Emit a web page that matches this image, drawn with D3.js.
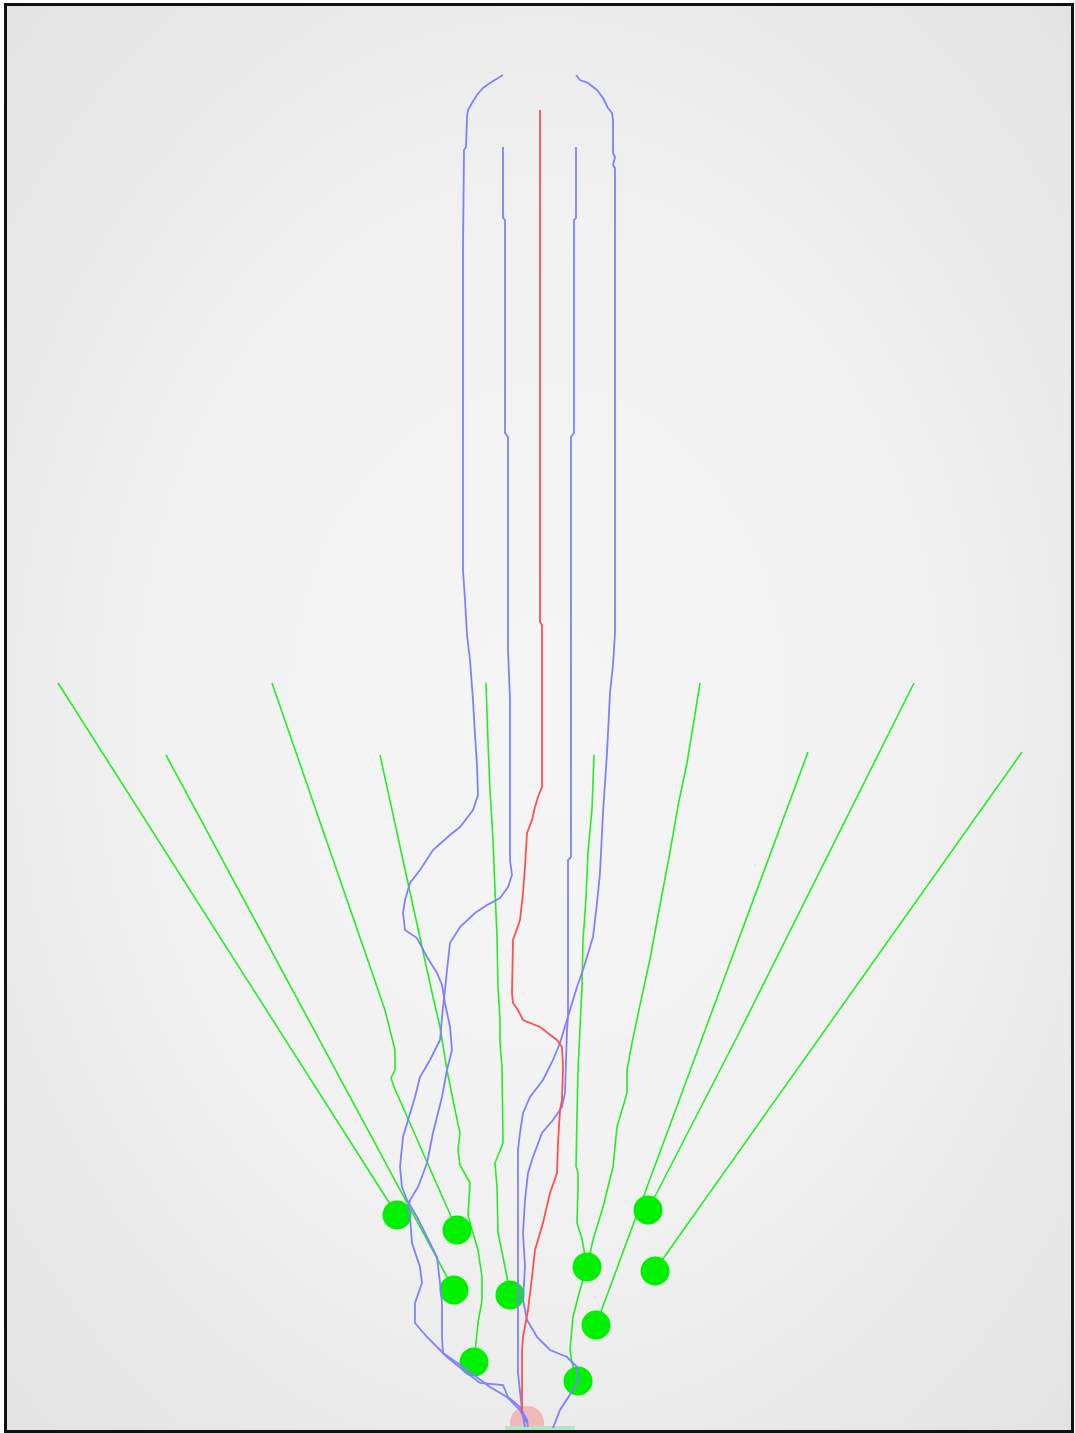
<!DOCTYPE html>
<html>
<head>
<meta charset="utf-8">
<script src="https://cdn.jsdelivr.net/npm/d3@7"></script>
<style>
  body { margin: 0; background: #fff; }
</style>
</head>
<body>
<svg id="field" width="1075" height="1433"></svg>
<script>
// field units: x from base centre, y up from the base line
const blueOuterLeft = [[-22,1355],[-27,1352],[-35,1347],[-42,1342],[-48,1335],[-53,1327],[-57,1320],[-58,1313],[-59,1283],[-61,1280],[-62,1180],[-62,860],[-60,830],[-58,795],[-55,770],[-52,730],[-50,695],[-48,665],[-47,635],[-52,620],[-65,603],[-75,595],[-92,580],[-105,560],[-115,547],[-120,530],[-122,517],[-120,500],[-108,492],[-98,473],[-88,457],[-83,445],[-80,427],[-75,403],[-73,380],[-78,360],[-83,333],[-87,317],[-92,297],[-98,267],[-107,243],[-115,230],[-117,223],[-115,213],[-113,187],[-105,163],[-103,147],[-110,127],[-110,107],[-98,93],[-78,73],[-62,60],[-45,47],[-22,45],[-17,33],[-5,23],[2,10],[3,3]];
const blueInnerLeft = [[-22,1283],[-22,1212],[-20,1210],[-20,997],[-17,993],[-17,780],[-15,730],[-15,570],[-13,555],[-17,543],[-25,532],[-38,525],[-50,517],[-65,503],[-75,487],[-78,460],[-80,440],[-82,423],[-85,390],[-95,370],[-105,353],[-110,333],[-122,293],[-125,263],[-123,243],[-118,230],[-108,213],[-95,187],[-88,173],[-85,147],[-83,127],[-83,93],[-82,77],[-62,63],[-35,43],[-18,33],[-5,20],[2,7]];
const blueInnerRight = [[51,1283],[51,1212],[49,1210],[49,997],[46,993],[46,573],[43,570],[43,413],[42,400],[40,337],[37,323],[28,310],[17,297],[8,273],[3,257],[0,230],[-2,197],[0,163],[-2,130],[2,110],[12,93],[25,80],[42,73],[52,63],[53,50],[48,40],[35,20],[28,2]];
const blueOuterRight = [[51,1355],[55,1350],[63,1347],[72,1340],[78,1332],[83,1322],[87,1317],[88,1310],[88,1277],[90,1273],[88,1265],[90,1262],[90,797],[88,765],[85,737],[82,677],[78,617],[75,557],[72,527],[68,493],[58,460],[52,443],[45,420],[35,387],[28,370],[18,350],[5,333],[-2,317],[-5,297],[-7,280],[-7,57],[-3,20],[0,3]];
const redTrack = [[15,1320],[15,808],[17,805],[17,643],[13,633],[10,623],[7,610],[2,597],[0,563],[-2,537],[-5,510],[-12,490],[-13,437],[-12,427],[-7,420],[-2,410],[15,403],[32,390],[37,383],[38,363],[37,330],[35,320],[33,287],[32,257],[25,237],[18,207],[10,180],[7,153],[3,120],[-2,93],[-3,80],[-3,17]];

const greenTracks = [
  [[-467,747],[-128,215]],
  [[-359,675],[-71,140]],
  [[-253,747],[-140,420],[-130,380],[-130,360],[-134,352],[-131,343],[-68,200]],
  [[-145,675],[-117,547],[-103,483],[-92,433],[-85,403],[-78,360],[-70,320],[-65,297],[-67,280],[-65,265],[-55,247],[-57,215],[-53,200],[-47,180],[-43,153],[-43,130],[-47,107],[-51,68]],
  [[-39,747],[-37,687],[-35,640],[-32,590],[-30,540],[-28,493],[-27,443],[-25,410],[-25,387],[-23,363],[-22,287],[-30,267],[-28,243],[-27,197],[-22,173],[-18,153],[-15,135]],
  [[69,675],[67,621],[63,578],[61,532],[58,490],[57,444],[55,402],[53,360],[52,314],[51,264],[53,257],[53,241],[52,207],[57,191],[62,163],[55,140],[48,113],[45,80],[47,67],[53,49]],
  [[175,747],[170,716],[162,667],[153,624],[145,578],[135,525],[125,471],[115,425],[107,387],[102,360],[102,337],[92,303],[88,263],[78,223],[68,190],[62,163]],
  [[283,678],[71,105]],
  [[389,747],[213,395],[123,220]],
  [[497,678],[130,160]]
];
const dotPoints = [[-128,215],[-68,200],[-71,140],[-15,135],[-51,68],[53,49],[62,163],[71,105],[123,220],[130,159]];
const baseCircle = [2, 7];
const baseRect = [[-20, 4], [50, -10]];

const svg = d3.select("#field");
const x = d3.scaleLinear().domain([-521, 549]).range([4, 1074]);
const y = d3.scaleLinear().domain([0, 1427]).range([1430, 3]);
const line = d3.line().x(d => x(d[0])).y(d => y(d[1]));

const defs = svg.append("defs");
const grad = defs.append("radialGradient").attr("id", "bg")
    .attr("cx", "50%").attr("cy", "50%").attr("r", "72%");
grad.append("stop").attr("offset", "0%").attr("stop-color", "#f5f5f5");
grad.append("stop").attr("offset", "45%").attr("stop-color", "#f2f2f2");
grad.append("stop").attr("offset", "100%").attr("stop-color", "#e2e2e2");
defs.append("clipPath").attr("id", "clip").append("rect")
    .attr("x", x(-518)).attr("y", y(1424))
    .attr("width", x(546) - x(-518)).attr("height", y(0) - y(1424));

svg.append("rect")
    .attr("x", x(-521)).attr("y", y(1427))
    .attr("width", x(549) - x(-521)).attr("height", y(0) - y(1427))
    .attr("fill", "url(#bg)");

const g = svg.append("g").attr("clip-path", "url(#clip)");

g.append("circle")
    .attr("cx", x(baseCircle[0])).attr("cy", y(baseCircle[1]))
    .attr("r", 17)
    .attr("fill", "#f2a8a8").attr("opacity", 0.75);

g.append("rect")
    .attr("x", x(baseRect[0][0])).attr("y", y(baseRect[0][1]))
    .attr("width", x(baseRect[1][0]) - x(baseRect[0][0]))
    .attr("height", y(baseRect[1][1]) - y(baseRect[0][1]))
    .attr("fill", "#b4e6c4");

g.selectAll("path.green")
    .data(greenTracks)
    .enter().append("path")
    .attr("class", "green")
    .attr("d", line)
    .attr("fill", "none")
    .attr("stroke", "#22ee22")
    .attr("stroke-width", 1.6);

g.selectAll("circle.dot")
    .data(dotPoints)
    .enter().append("circle")
    .attr("class", "dot")
    .attr("cx", d => x(d[0])).attr("cy", d => y(d[1]))
    .attr("r", 14.5)
    .attr("fill", "#00f000");

g.selectAll("path.blue")
    .data([blueOuterLeft, blueInnerLeft, blueInnerRight, blueOuterRight])
    .enter().append("path")
    .attr("class", "blue")
    .attr("d", line)
    .attr("fill", "none")
    .attr("stroke", "#8080ff")
    .attr("stroke-width", 1.8);

g.append("path")
    .attr("d", line(redTrack))
    .attr("fill", "none")
    .attr("stroke", "#ff5050")
    .attr("stroke-width", 1.8);

// frame
svg.append("rect")
    .attr("x", x(-519.5)).attr("y", y(1425.5))
    .attr("width", x(547.5) - x(-519.5)).attr("height", y(-1.5) - y(1425.5))
    .attr("fill", "none")
    .attr("stroke", "#111")
    .attr("stroke-width", 3);
</script>
</body>
</html>
